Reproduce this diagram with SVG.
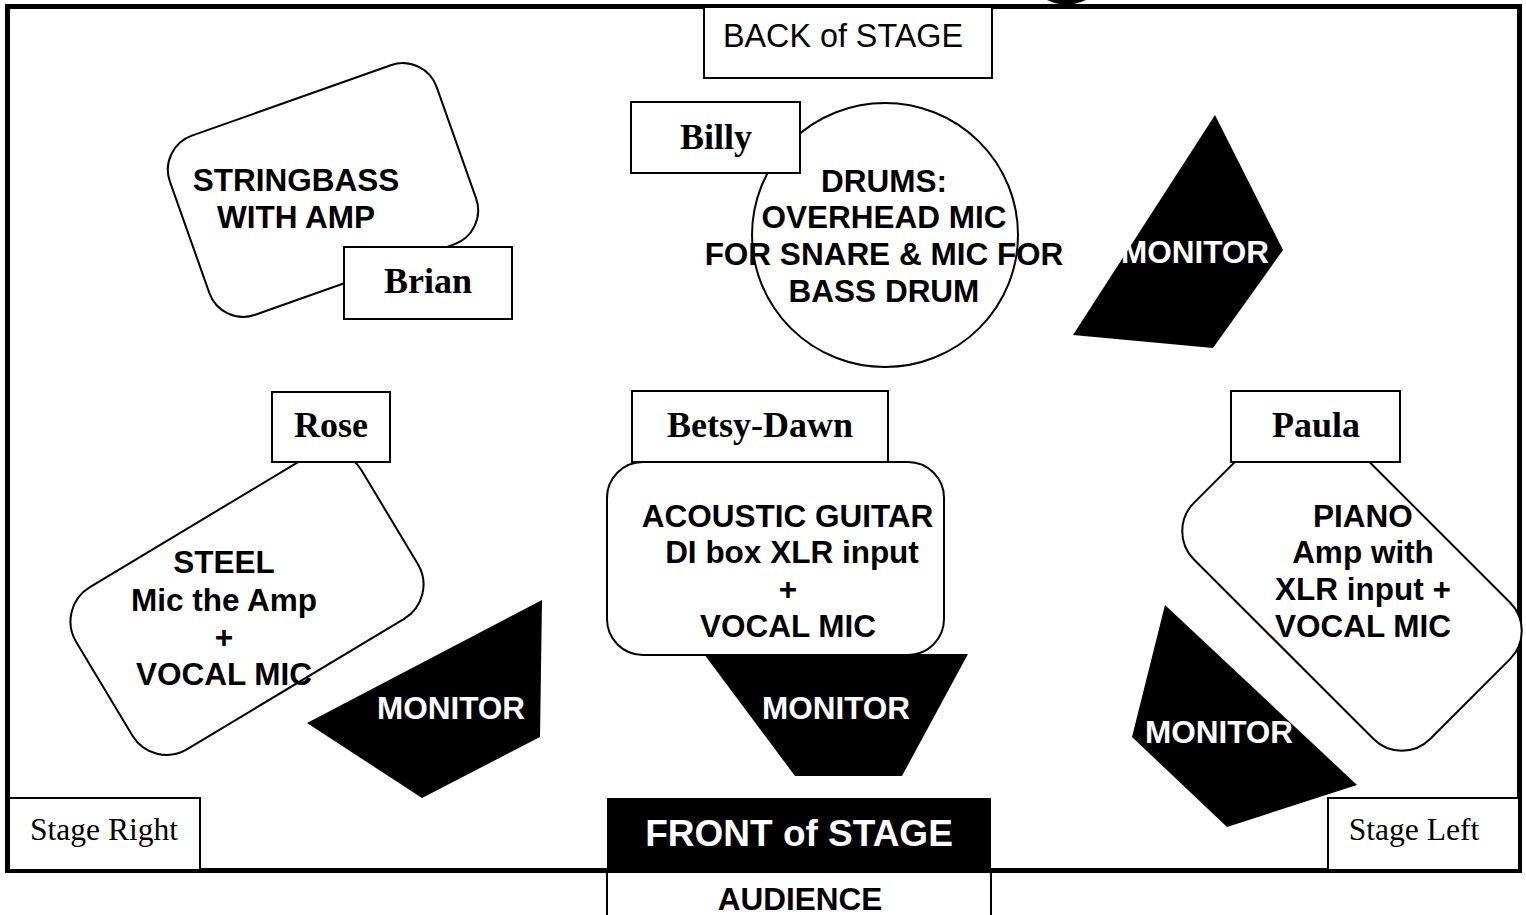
<svg xmlns="http://www.w3.org/2000/svg" width="1526" height="915" viewBox="0 0 1526 915">
<style>
.box{fill:#fff;stroke:#000;stroke-width:2}
.shape{fill:#fff;stroke:#000;stroke-width:2}
.mon{fill:#000;stroke:none}
.lbl{font-family:"Liberation Sans",Arial,sans-serif;font-weight:bold;font-size:31.5px;text-anchor:middle;fill:#000}
.mlbl{font-family:"Liberation Sans",Arial,sans-serif;font-weight:bold;font-size:31.5px;text-anchor:middle;fill:#fff}
.name{font-family:"Liberation Serif","Times New Roman",serif;font-weight:bold;font-size:36px;text-anchor:middle;fill:#000}
.side{font-family:"Liberation Serif","Times New Roman",serif;font-size:31.5px;text-anchor:middle;fill:#000}
</style>
<rect width="1526" height="915" fill="#fff"/>
<path d="M1047,0 Q1066,9 1086,0 Z" fill="#000"/>
<rect id="stage" x="7.5" y="6.5" width="1512" height="864" fill="none" stroke="#000" stroke-width="5"/>
<g id="connectors"></g>

<g id="back-of-stage">
<rect class="box" x="704" y="7" width="288" height="71"/>
<text x="843" y="47" style="font-family:'Liberation Sans',Arial,sans-serif;font-size:32.3px;text-anchor:middle">BACK of STAGE</text>
</g>

<g id="stringbass">
<rect class="shape" x="-141.5" y="-95" width="283" height="190" rx="36" transform="translate(323,190) rotate(-19.5)"/>
<text class="lbl" x="296" y="191">STRINGBASS</text>
<text class="lbl" x="296" y="228">WITH AMP</text>
</g>
<g id="brian">
<rect class="box" x="344" y="247" width="168" height="72"/>
<text class="name" x="428" y="293">Brian</text>
</g>

<g id="drums">
<ellipse class="shape" cx="885" cy="235" rx="133" ry="132"/>
<text class="lbl" x="884" y="192">DRUMS:</text>
<text class="lbl" x="884" y="228">OVERHEAD MIC</text>
<text class="lbl" x="884" y="265">FOR SNARE &amp; MIC FOR</text>
<text class="lbl" x="884" y="302">BASS DRUM</text>
</g>
<g id="billy">
<rect class="box" x="631" y="102" width="169" height="71"/>
<text class="name" x="716" y="149">Billy</text>
</g>

<g id="monitor-drums">
<polygon class="mon" points="1215,115 1283,250 1213,348 1073,335"/>
<text class="mlbl" x="1195" y="263">MONITOR</text>
</g>

<g id="steel">
<rect class="shape" x="-166.5" y="-94.5" width="333" height="189" rx="40" transform="translate(247,603) rotate(-31)"/>
<text class="lbl" x="224" y="573">STEEL</text>
<text class="lbl" x="224" y="611">Mic the Amp</text>
<text class="lbl" x="224" y="648">+</text>
<text class="lbl" x="224" y="685">VOCAL MIC</text>
</g>
<g id="rose">
<rect class="box" x="272" y="392" width="118" height="70"/>
<text class="name" x="331" y="437">Rose</text>
</g>
<g id="monitor-steel">
<polygon class="mon" points="307,723 542,600 540,737 422,798"/>
<text class="mlbl" x="451" y="719">MONITOR</text>
</g>

<g id="monitor-acoustic">
<polygon class="mon" points="704,654 968,654 902,776 795,776"/>
<text class="mlbl" x="836" y="719">MONITOR</text>
</g>
<g id="betsy-dawn">
<rect class="box" x="632" y="391" width="256" height="71"/>
<text class="name" x="760" y="437">Betsy-Dawn</text>
</g>
<g id="acoustic">
<rect class="shape" x="607" y="462" width="337" height="193" rx="36"/>
<text class="lbl" x="787.5" y="527">ACOUSTIC GUITAR</text>
<text class="lbl" x="792" y="563">DI box XLR input</text>
<text class="lbl" x="788" y="600">+</text>
<text class="lbl" x="788" y="637">VOCAL MIC</text>
</g>

<g id="piano">
<rect class="shape" x="-167" y="-96.5" width="334" height="193" rx="40" transform="translate(1352,581) rotate(45)"/>
<text class="lbl" x="1363" y="527">PIANO</text>
<text class="lbl" x="1363" y="563">Amp with</text>
<text class="lbl" x="1363" y="600">XLR input +</text>
<text class="lbl" x="1363" y="637">VOCAL MIC</text>
</g>
<g id="paula">
<rect class="box" x="1231" y="391" width="169" height="71"/>
<text class="name" x="1316" y="437">Paula</text>
</g>
<g id="monitor-piano">
<polygon class="mon" points="1165,605 1357,785 1227,827 1132,737"/>
<text class="mlbl" x="1219" y="743">MONITOR</text>
</g>

<g id="stage-right">
<rect class="box" x="9" y="798" width="191" height="72"/>
<text class="side" x="104" y="840">Stage Right</text>
</g>
<g id="stage-left">
<rect class="box" x="1328" y="798" width="191" height="72"/>
<text class="side" x="1414" y="840">Stage Left</text>
</g>
<g id="front-of-stage">
<rect x="607" y="798" width="384" height="72" fill="#000"/>
<text x="799" y="846" style="font-family:'Liberation Sans',Arial,sans-serif;font-weight:bold;font-size:37px;text-anchor:middle;fill:#fff">FRONT of STAGE</text>
</g>
<g id="audience">
<rect class="box" x="607" y="872" width="384" height="60"/>
<text class="lbl" x="800" y="910">AUDIENCE</text>
</g>
</svg>
